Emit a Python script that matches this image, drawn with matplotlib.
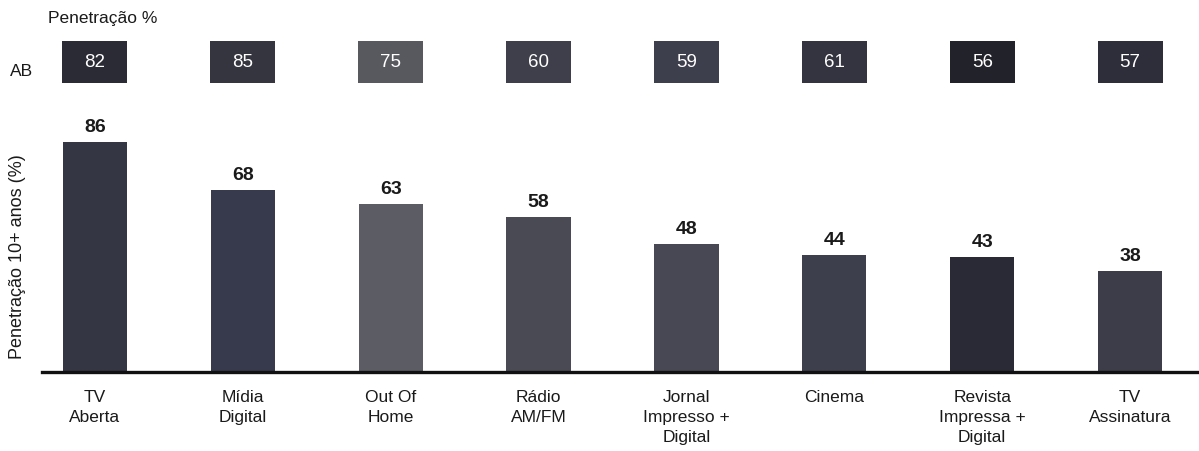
import matplotlib
matplotlib.use("Agg")
import matplotlib.pyplot as plt

plt.rcParams['font.family'] = ['Liberation Sans', 'DejaVu Sans']

categories = ["TV\nAberta", "Mídia\nDigital", "Out Of\nHome", "Rádio\nAM/FM",
              "Jornal\nImpresso +\nDigital", "Cinema", "Revista\nImpressa +\nDigital",
              "TV\nAssinatura"]
penetracao_10 = [86, 68, 63, 58, 48, 44, 43, 38]
penetracao_ab = [82, 85, 75, 60, 59, 61, 56, 57]
bar_colors = ["#353644", "#373a4c", "#5c5c64", "#4a4a55", "#474854", "#3e3f4c", "#2a2a36", "#3d3d4a"]
box_colors = ["#2b2b35", "#35353f", "#58585f", "#3e3f4a", "#3e3f4c", "#33343f", "#22222a", "#2e2e3a"]

W, H = 1199, 452
fig = plt.figure(figsize=(W / 100, H / 100), dpi=100)

# main bar axes
ax = fig.add_axes([42 / W, (H - 373) / H, 1 - 42 / W, 267 / H])
x = list(range(len(categories)))
ax.bar(x, penetracao_10, width=0.435, color=bar_colors)
ax.set_xlim(-0.358, 7.466)
ax.set_ylim(0, 100)
for xi, v in zip(x, penetracao_10):
    ax.annotate(str(v), (xi, v), xytext=(0, 5), textcoords="offset points",
                ha="center", va="bottom", fontsize=14, fontweight="bold", color="#1a1a1a")
for s in ["top", "right", "left"]:
    ax.spines[s].set_visible(False)
ax.spines["bottom"].set_linewidth(2.4)
ax.spines["bottom"].set_color("#111111")
ax.set_yticks([])
ax.set_xticks(x)
ax.set_xticklabels(categories, fontsize=12.5, linespacing=1.42, color="#1a1a1a")
ax.tick_params(axis="x", length=0, pad=12)

fig.text(18 / W, (H - 257) / H, "Penetração 10+ anos (%)", rotation=90,
         ha="center", va="center", fontsize=13, color="#1a1a1a")

# AB boxes row
axb = fig.add_axes([42 / W, (H - 84) / H, 1 - 42 / W, 42 / H])
axb.bar(x, [1] * len(x), width=0.44, color=box_colors, bottom=0)
axb.set_xlim(-0.358, 7.466)
axb.set_ylim(0, 1)
axb.axis("off")
for xi, v in zip(x, penetracao_ab):
    axb.text(xi, 0.5, str(v), ha="center", va="center", fontsize=13.5, color="white")

fig.text(10 / W, (H - 72) / H, "AB", ha="left", va="center", fontsize=12.5, color="#1a1a1a")
fig.text(48 / W, (H - 19) / H, "Penetração %", ha="left", va="center", fontsize=12.5, color="#1a1a1a")

fig.savefig("out.png", dpi=100, facecolor="white")
